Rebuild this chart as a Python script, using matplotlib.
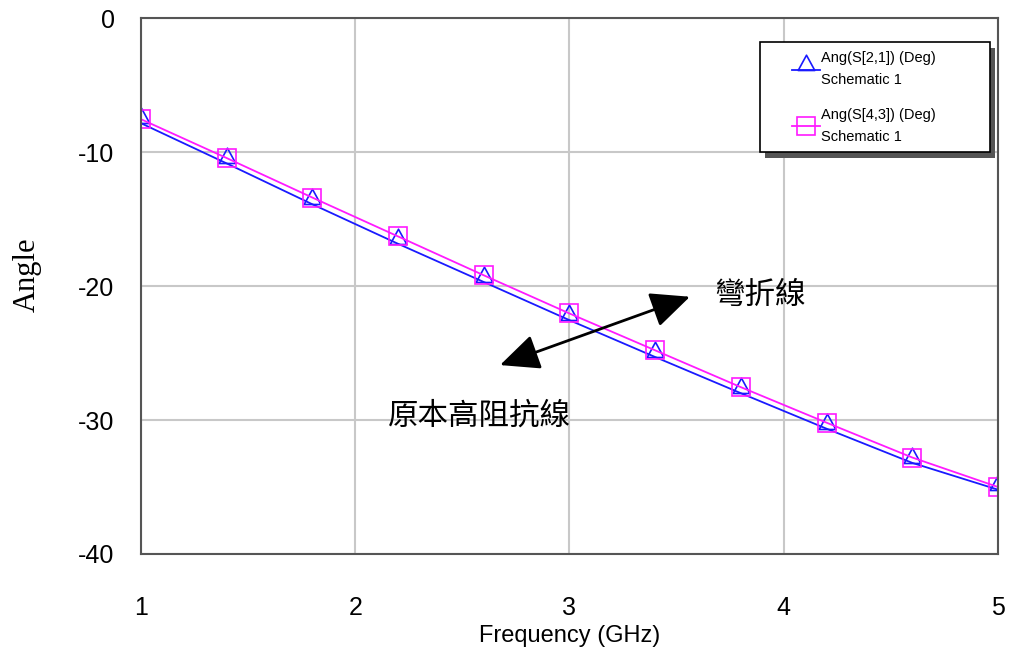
import matplotlib
matplotlib.use('Agg')
import matplotlib.pyplot as plt
from matplotlib.path import Path
from matplotlib.patches import Rectangle

# data (marker points)
freq = [1.0, 1.4, 1.8, 2.2, 2.6, 3.0, 3.4, 3.8, 4.2, 4.6, 5.0]
ang_s21 = [-7.85, -10.85, -13.9, -16.85, -19.7, -22.55, -25.3, -28.0, -30.65, -33.2, -35.2]
ang_s43 = [-7.55, -10.45, -13.4, -16.3, -19.2, -22.05, -24.8, -27.55, -30.2, -32.8, -35.0]
label_s21 = 'Ang(S[2,1]) (Deg)\nSchematic 1'
label_s43 = 'Ang(S[4,3]) (Deg)\nSchematic 1'
xticks = [1, 2, 3, 4, 5]
yticks = [0, -10, -20, -30, -40]

plt.rcParams['font.family'] = ['Liberation Sans', 'DejaVu Sans']
plt.rcParams['axes.unicode_minus'] = False

fig = plt.figure(figsize=(10.10, 6.49), dpi=100)
ax = fig.add_axes([0.1396, 0.1464, 0.8485, 0.8258])

# triangle sitting on top of the data point, like the simulator draws it
tri = Path([(-0.6, 0.0), (0.6, 0.0), (0.0, 1.1), (-0.6, 0.0)],
           [Path.MOVETO, Path.LINETO, Path.LINETO, Path.CLOSEPOLY])

ax.plot(freq, ang_s21, color='#1a1aff', lw=1.3, marker=tri, ms=22,
        mfc='none', mec='#1a1aff', mew=1.2, label=label_s21)
ax.plot(freq, ang_s43, color='#ff1aff', lw=1.3, marker='s', ms=13,
        mfc='none', mec='#ff1aff', mew=1.2, label=label_s43)

ax.set_xlim(1, 5)
ax.set_ylim(-40, 0)
ax.set_xticks(xticks)
ax.set_yticks(yticks)
ax.tick_params(length=0, labelsize=18, pad=19)
ax.tick_params(axis='x', pad=30)
ax.grid(True, color='#c8c8c8', lw=1.5)
for s in ax.spines.values():
    s.set_color('#555555')
    s.set_linewidth(1.5)

ax.set_xlabel('Frequency (GHz)', fontsize=17, labelpad=4)
ax.set_ylabel('Angle', fontsize=22, family='Liberation Serif')
ax.yaxis.set_label_coords(-0.1155, 0.5205)

# legend box with drop shadow, drawn by hand so the padding matches
bx, by, bw, bh = 0.7223, 0.75, 0.2684, 0.2052
ax.add_patch(Rectangle((bx + 0.006, by - 0.011), bw, bh, transform=ax.transAxes,
                       facecolor='#555555', edgecolor='none', zorder=4))
ax.add_patch(Rectangle((bx, by), bw, bh, transform=ax.transAxes,
                       facecolor='white', edgecolor='black', lw=1.2, zorder=5))

leg = ax.legend(loc='upper left', bbox_to_anchor=(0.76, 0.938), fontsize=10.5,
                frameon=False, handlelength=1.9, handletextpad=0.1,
                labelspacing=1.45, borderaxespad=0, borderpad=0)
leg.set_zorder(6)
for t in leg.get_texts():
    t.set_linespacing(1.7)

cjk = ['Noto Sans CJK TC', 'DejaVu Sans']
ax.text(3.89, -20.7, '彎折線', fontsize=22, family=cjk, ha='center', va='center')
ax.text(2.58, -29.7, '原本高阻抗線', fontsize=22, family=cjk, ha='center', va='center')
ax.annotate('', xy=(2.676, -25.9), xytext=(3.562, -20.8),
            arrowprops=dict(arrowstyle='<|-|>,head_length=1.1,head_width=0.5',
                            color='black', lw=2, mutation_scale=22,
                            shrinkA=0, shrinkB=0))

fig.savefig('out.png', dpi=100)
